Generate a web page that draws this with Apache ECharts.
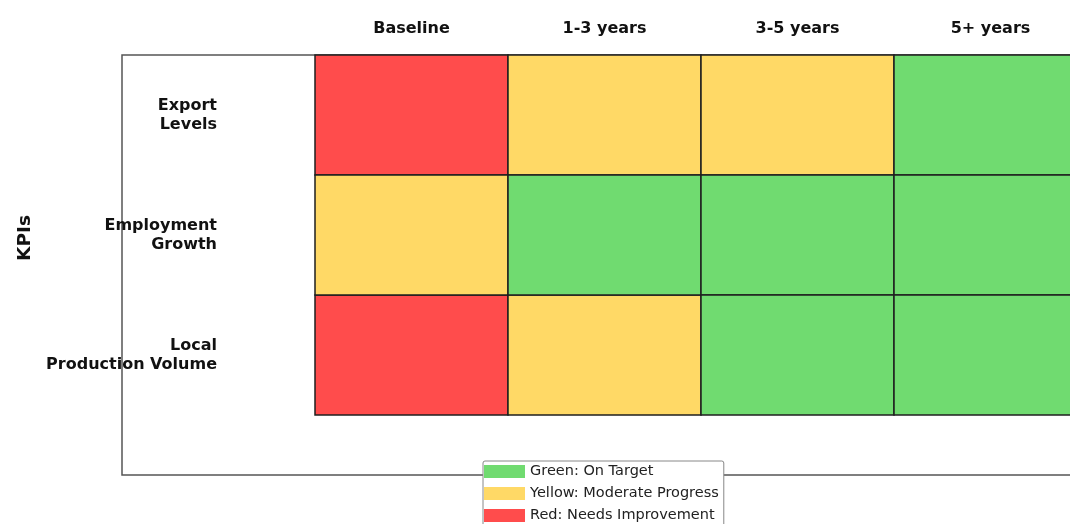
<!DOCTYPE html>
<html>
<head>
<meta charset="utf-8">
<script src="https://cdn.jsdelivr.net/npm/echarts@6/dist/echarts.min.js"></script>
<style>
  html, body { margin: 0; padding: 0; background: #fff; overflow: hidden; }
  #chart { width: 1070px; height: 560px; }
</style>
</head>
<body>
<div id="chart"></div>
<script>
// ---- data ----
const timeframes = ['Baseline', '1-3 years', '3-5 years', '5+ years'];
const kpis = ['Export\nLevels', 'Employment\nGrowth', 'Local\nProduction Volume'];
// status codes: 0 = Red, 1 = Yellow, 2 = Green
const exportLevels = [0, 1, 1, 2];
const employmentGrowth = [1, 2, 2, 2];
const localProductionVolume = [0, 1, 2, 2];
const statusNames = ['Red: Needs Improvement', 'Yellow: Moderate Progress', 'Green: On Target'];
const statusColors = ['#FF4C4C', '#FFD966', '#70DB70'];
const legendOrder = ['Green: On Target', 'Yellow: Moderate Progress', 'Red: Needs Improvement'];
const axisTitle = 'KPIs';

// ---- build ----
const rows = [exportLevels, employmentGrowth, localProductionVolume];
const xCats = [''].concat(timeframes);
const perStatus = [[], [], []];
rows.forEach((row, r) => {
  row.forEach((s, c) => {
    perStatus[s].push([c + 1, r + 0.5]);
  });
});

function renderCell(params, api) {
  const center = api.coord([api.value(0), api.value(1)]);
  const size = api.size([1, 1]);
  return {
    type: 'rect',
    shape: { x: center[0] - size[0] / 2, y: center[1] - size[1] / 2, width: size[0], height: size[1] },
    style: { fill: api.visual('color'), stroke: '#1f1f1f', lineWidth: 1.5 }
  };
}

const rowLabelMap = {};
kpis.forEach((k, i) => { rowLabelMap[(i + 0.5).toFixed(1)] = k; });

const chart = echarts.init(document.getElementById('chart'), null, { renderer: 'canvas' });
chart.setOption({
  animation: false,
  backgroundColor: '#ffffff',
  grid: {
    left: 122, top: 55, width: 965, height: 420,
    outerBoundsMode: 'none',
    containLabel: false,
    show: true, borderColor: '#555', borderWidth: 1.5, backgroundColor: 'transparent'
  },
  xAxis: {
    type: 'category',
    position: 'top',
    data: xCats,
    axisLine: { show: false },
    axisTick: { show: false },
    splitLine: { show: false },
    axisLabel: {
      margin: 18,
      fontFamily: 'DejaVu Sans',
      fontWeight: 'bold',
      fontSize: 16,
      color: '#111'
    }
  },
  yAxis: {
    type: 'value',
    inverse: true,
    min: 0,
    max: 3.5,
    interval: 0.5,
    axisLine: { show: false },
    axisTick: { show: false },
    splitLine: { show: false },
    axisLabel: {
      margin: -95,
      fontFamily: 'DejaVu Sans',
      fontWeight: 'bold',
      fontSize: 16,
      lineHeight: 19,
      color: '#111',
      align: 'right',
      padding: [0, 0, 2, 0],
      formatter: function (v) { return rowLabelMap[v.toFixed(1)] || ''; }
    }
  },
  graphic: [{
    type: 'text',
    x: 25,
    y: 238,
    rotation: Math.PI / 2,
    style: {
      text: axisTitle,
      fontFamily: 'DejaVu Sans',
      fontWeight: 'bold',
      fontSize: 18.5,
      fill: '#111',
      align: 'center',
      verticalAlign: 'middle'
    }
  }],
  legend: {
    data: legendOrder,
    orient: 'vertical',
    left: 483,
    top: 461,
    padding: [3, 5, 4, 1],
    itemGap: 7,
    itemWidth: 41,
    itemHeight: 13,
    icon: 'rect',
    backgroundColor: '#fff',
    borderColor: '#888',
    borderWidth: 1,
    borderRadius: 2,
    selectedMode: false,
    textStyle: { fontFamily: 'DejaVu Sans', fontSize: 14.5, color: '#222' }
  },
  series: [0, 1, 2].map(s => ({
    type: 'custom',
    name: statusNames[s],
    itemStyle: { color: statusColors[s] },
    renderItem: renderCell,
    encode: { x: 0, y: 1 },
    data: perStatus[s]
  }))
});
</script>
</body>
</html>
